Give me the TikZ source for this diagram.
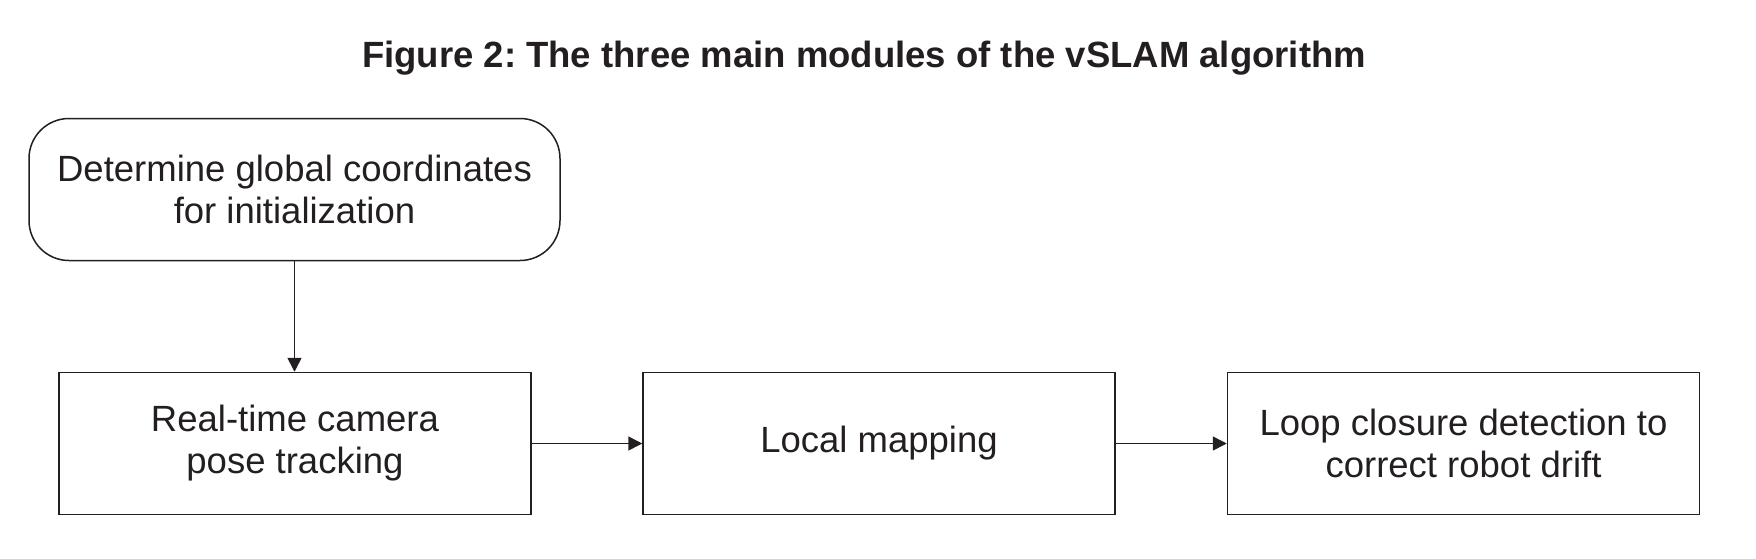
\documentclass[tikz,border=0pt]{standalone}
\usepackage{fontspec}
\setmainfont{Liberation Sans}
\usetikzlibrary{arrows.meta}
\definecolor{ink}{HTML}{231F20}
\begin{document}
\frenchspacing
\begin{tikzpicture}[x=1pt,y=-1pt,
  box/.style={draw=ink, line width=1.5pt, minimum width=472pt, minimum height=142pt,
    inner sep=0pt, align=center, text=ink, font=\fontsize{36.5}{42}\selectfont},
  rbox/.style={box, rounded corners=40pt, minimum width=531pt},
  arr/.style={draw=ink, line width=1.5pt, -{Triangle[length=14pt,width=14pt]}}]
\useasboundingbox (0,0) rectangle (1756,558);
\node[font=\bfseries\fontsize{36.5}{36.5}\selectfont, text=ink, anchor=base] (title) at (864,67.5)
  {Figure 2: The three main modules of the vSLAM algorithm};
\node[rbox] (init) at (294.5,189.5) {Determine global coordinates\\for initialization};
\node[box] (track) at (295,443.5) {Real-time camera\\pose tracking};
\node[box] (map) at (879,443.5) {Local mapping};
\node[box] (loop) at (1463.5,443.5) {Loop closure detection to\\correct robot drift};
\draw[arr] (init.south) -- (init.south |- track.north);
\draw[arr] (track.east) -- (map.west);
\draw[arr] (map.east) -- (loop.west);
\end{tikzpicture}
\end{document}
